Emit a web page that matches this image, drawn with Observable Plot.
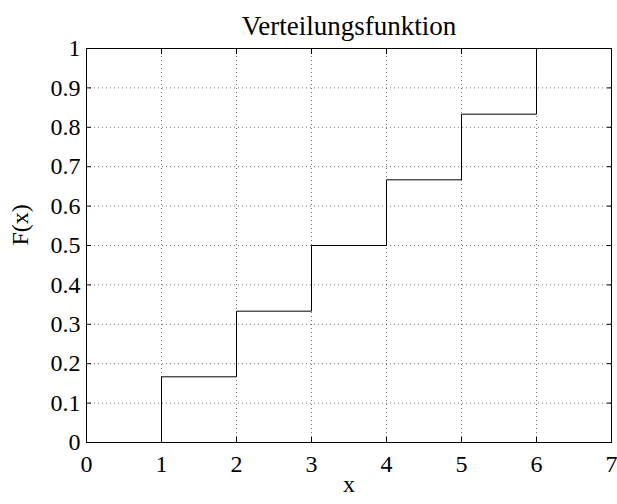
<!DOCTYPE html>
<html>
<head>
<meta charset="utf-8">
<script src="https://cdn.jsdelivr.net/npm/d3@7"></script>
<script src="https://cdn.jsdelivr.net/npm/@observablehq/plot@0.6"></script>
<style>
  html, body { margin: 0; padding: 0; background: #fff; overflow: hidden; }
  #chart svg { font-family: "Liberation Serif", "DejaVu Serif", serif; display: block; }
</style>
</head>
<body>
<div id="chart"></div>
<script>
const titleText = "Verteilungsfunktion";
const xLabel = "x";
const yLabel = "F(x)";
const stepX = [0, 1, 2, 3, 4, 5, 6];
const stepY = [0, 0.1667, 0.3333, 0.5, 0.6667, 0.8333, 1];
const xTicks = [0, 1, 2, 3, 4, 5, 6, 7];
const yTicks = [0, 0.1, 0.2, 0.3, 0.4, 0.5, 0.6, 0.7, 0.8, 0.9, 1];

const data = stepX.map((x, i) => ({x, y: stepY[i]}));

const fs = 24;
const chart = Plot.plot({
  width: 617,
  height: 504,
  marginLeft: 86,
  marginRight: 6,
  marginTop: 48,
  marginBottom: 62,
  style: {fontFamily: "Liberation Serif, serif", background: "#fff", overflow: "visible"},
  x: {domain: [0, 7], label: null},
  y: {domain: [0, 1], label: null},
  marks: [
    Plot.gridX(xTicks, {stroke: "#000", strokeOpacity: 0.55, strokeDasharray: "1,3"}),
    Plot.gridY(yTicks, {stroke: "#000", strokeOpacity: 0.55, strokeDasharray: "1,3"}),
    Plot.frame({stroke: "#000", strokeWidth: 1}),
    Plot.axisX(xTicks, {anchor: "bottom", tickSize: -5, tickPadding: 17, fontSize: fs, tickFormat: d => String(d), label: null, stroke: "#000"}),
    Plot.axisX(xTicks, {anchor: "top", tickSize: -5, tickFormat: () => "", label: null, stroke: "#000"}),
    Plot.axisY(yTicks, {anchor: "left", tickSize: -5, tickPadding: 11, fontSize: fs, tickFormat: d => String(+d.toFixed(1)), label: null, stroke: "#000"}),
    Plot.axisY(yTicks, {anchor: "right", tickSize: -5, tickFormat: () => "", label: null, stroke: "#000"}),
    Plot.line(data, {x: "x", y: "y", curve: "step-after", stroke: "#000", strokeWidth: 1}),
    Plot.text([titleText], {frameAnchor: "top", dy: -33, fontSize: 27, text: d => d, fill: "#000"}),
    Plot.text([xLabel], {frameAnchor: "bottom", dy: 49, fontSize: fs, text: d => d, fill: "#000"}),
    Plot.text([yLabel], {frameAnchor: "left", dx: -66, rotate: -90, fontSize: fs, text: d => d, fill: "#000"})
  ]
});
document.getElementById("chart").append(chart);
</script>
</body>
</html>
